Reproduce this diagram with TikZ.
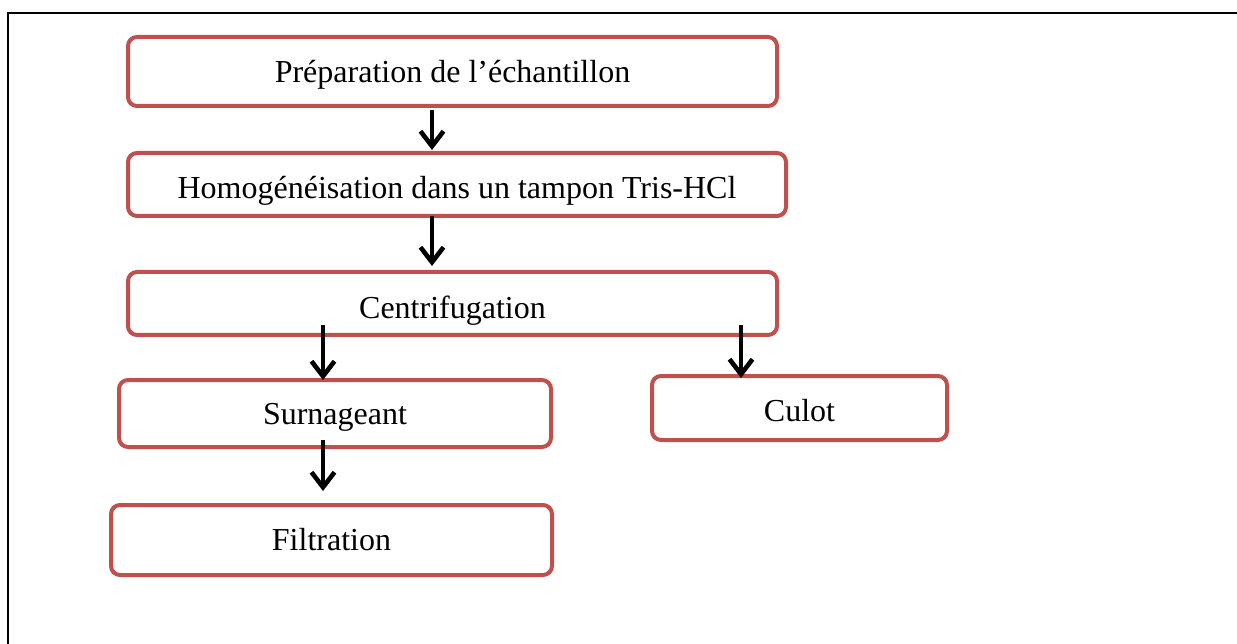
\documentclass[tikz,border=0pt]{standalone}
\usepackage{fontspec}
\setmainfont{Liberation Serif}
\usetikzlibrary{arrows.meta}
\definecolor{boxred}{HTML}{C0504D}
% lower a label inside its box without changing the box size
\newcommand{\lowerby}[2]{\raisebox{-#1}[\height][\depth]{#2}}
\begin{document}
\begin{tikzpicture}[x=1pt,y=-1pt,
  stepbox/.style={draw=boxred, line width=4pt, rounded corners=9pt, fill=white,
    inner sep=0pt, font=\fontsize{32}{34}\selectfont},
  arr/.style={line width=3.8pt, -{Straight Barb[length=15pt,width=23pt,line width=4.6pt]}}]
\useasboundingbox (0,0) rectangle (1237,644);
% page frame
\draw[line width=2pt] (8,13) -- (1237,13);
\draw[line width=1.2pt] (8,12) -- (8,644);

\node[stepbox, minimum width=649pt, minimum height=69pt] (prep) at (452.5,71.5) {\lowerby{3pt}{Préparation de l’échantillon}};
\node[stepbox, minimum width=658pt, minimum height=63pt] (homo) at (457,184.5) {\lowerby{6pt}{Homogénéisation dans un tampon Tris-HCl}};
\node[stepbox, minimum width=649pt, minimum height=63pt] (centri) at (452.5,303.5) {\lowerby{7pt}{Centrifugation}};
\node[stepbox, minimum width=432pt, minimum height=67pt] (surn) at (335,413.5) {\lowerby{4pt}{Surnageant}};
\node[stepbox, minimum width=295pt, minimum height=64pt] (culot) at (799.5,408) {\lowerby{3pt}{Culot}};
\node[stepbox, minimum width=441pt, minimum height=70pt] (filt) at (331.5,540) {Filtration};

% connector anchors
\coordinate (c1) at (432,110);
\coordinate (c2) at (432,216);
\coordinate (c3) at (323,325);
\coordinate (c4) at (741,325);
\coordinate (c5) at (323,440);

\draw[arr] (c1) -- ([yshift=1pt]c1 |- homo.north);
\draw[arr] (c2) -- ([yshift=4pt]c2 |- centri.north);
\draw[arr] (c3) -- ([yshift=-2pt]c3 |- surn.north);
\draw[arr] (c4) -- ([yshift=-4pt]c4 |- culot.north);
\draw[arr] (c5) -- ([yshift=12pt]c5 |- filt.north);
\end{tikzpicture}
\end{document}
